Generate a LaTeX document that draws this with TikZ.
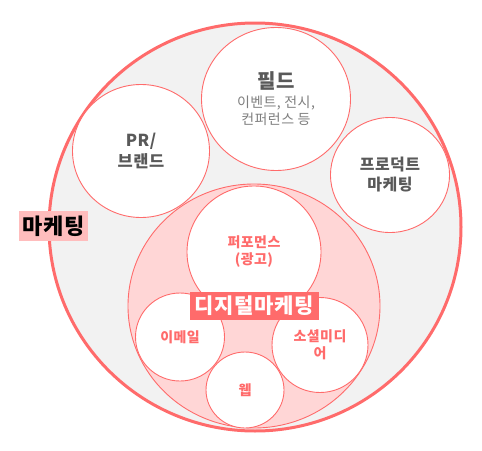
\documentclass[tikz,border=0pt]{standalone}
\usepackage{fontspec}
\setmainfont{Noto Sans CJK KR}[LetterSpace=3]
\usetikzlibrary{shapes.geometric}
\definecolor{cred}{HTML}{FF6B6B}
\definecolor{cgray}{HTML}{F2F2F2}
\definecolor{cpink}{HTML}{FFD6D6}
\definecolor{cpinkbox}{HTML}{FFBDBD}
\definecolor{cdark}{HTML}{595959}
\definecolor{cmid}{HTML}{7F7F7F}
\tikzset{
  x=1pt, y=-1pt,
  bub/.style={ellipse, draw=cred, line width=0.9pt, fill=white, inner sep=0pt, align=center},
  darktxt/.style={text=cdark, font=\fontsize{16.5}{21}\selectfont\bfseries},
  redtxt/.style={text=cred, font=\fontsize{14}{17}\selectfont\bfseries},
}
\begin{document}
\begin{tikzpicture}
\useasboundingbox (0,0) rectangle (482,450);
% outer marketing circle
\node (mk) [ellipse, draw=cred, line width=3pt, fill=cgray, minimum width=412, minimum height=408, inner sep=0pt] at (255,227) {};
% PR
\node (pr) [bub, darktxt, minimum width=137, minimum height=133] at (141,151) {PR/\\브랜드};
% Field
\node (field) [bub, text=cmid, font=\fontsize{14}{17}\selectfont, minimum width=149, minimum height=143] at (276,99)
  {{\color{cdark}\fontsize{20}{20}\selectfont\bfseries 필드}\\[2pt]
   이벤트, 전시,\\컨퍼런스 등};
% Product
\node (prod) [bub, darktxt, font=\fontsize{16}{20}\selectfont\bfseries, minimum width=119, minimum height=115] at (390,175) {프로덕트\\마케팅};
% Digital circle
\node (dig) [ellipse, draw=cred, line width=0.9pt, fill=cpink, minimum width=252, minimum height=244, inner sep=0pt] at (254,306) {};
% inner circles
\node (perf) [bub, redtxt, minimum width=134, minimum height=132] at (254,252) {퍼포먼스\\(광고)};
\node (mail) [bub, redtxt, minimum width=89, minimum height=88] at (180,337) {이메일};
\node (soc) [bub, redtxt, minimum width=96, minimum height=95] at (320,345) {소셜미디\\어};
\node (web) [bub, redtxt, minimum width=78, minimum height=76] at (245,390) {웹};
% labels
\node (mklab) [fill=cpinkbox, text=black, inner sep=0pt, minimum width=69, minimum height=30, font=\fontsize{22}{24}\selectfont\bfseries] at (53.5,226) {마케팅};
\node (diglab) [fill=cred, text=white, inner sep=0pt, minimum width=129, minimum height=28, font=\fontsize{21}{24}\selectfont\bfseries] at (254.5,306) {디지털마케팅};
\end{tikzpicture}
\end{document}
